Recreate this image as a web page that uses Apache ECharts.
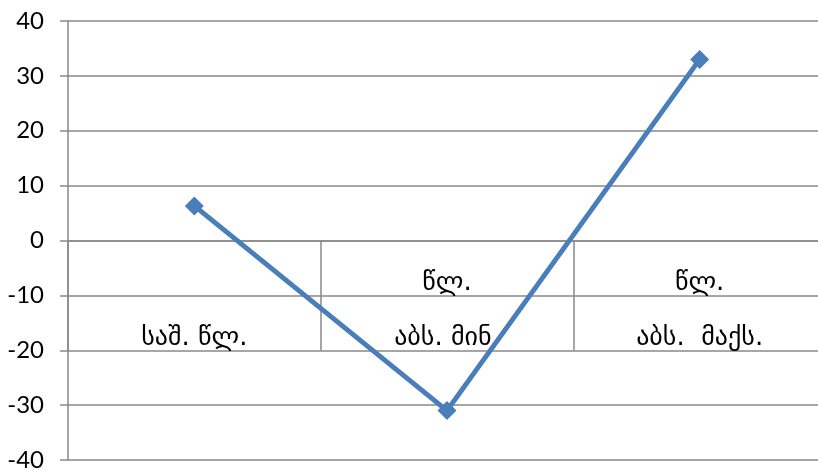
<!DOCTYPE html>
<html><head><meta charset="utf-8">
<script src="https://cdn.jsdelivr.net/npm/echarts@6/dist/echarts.min.js"></script>
<style>html,body{margin:0;padding:0;background:#fff;overflow:hidden}#c{width:818px;height:469px;display:block}</style>
</head><body><div id="c"></div>
<script>
const categories = ["\nსაშ. წლ.", "წლ.\nაბს. მინ.", "წლ.\nაბს.  მაქს."];
const values = [6.3, -31, 33];
const yTicks = {min: -40, max: 40, interval: 10};

const chart = echarts.init(document.getElementById('c'));
chart.setOption({
  animation: false,
  grid: {left: 68, right: -8, top: 21, bottom: 9, containLabel: false, outerBoundsMode: 'none'},
  xAxis: {
    type: 'category', data: categories, boundaryGap: true,
    position: 'bottom', offset: -219.5,
    axisLine: {onZero: false, lineStyle: {color: '#898989', width: 1.5}},
    axisTick: {show: true, length: 110, lineStyle: {color: '#898989', width: 1.5}},
    axisLabel: {color: '#000', fontSize: 26, fontFamily: '"DejaVu Sans"', lineHeight: 55, margin: 15, interval: 0}
  },
  yAxis: {
    type: 'value', min: yTicks.min, max: yTicks.max, interval: yTicks.interval,
    axisLine: {show: true, lineStyle: {color: '#898989', width: 1.5}},
    axisTick: {show: true, length: 8, lineStyle: {color: '#898989', width: 1.5}},
    axisLabel: {color: '#000', fontSize: 24, fontFamily: 'Lato, "Open Sans"', margin: 24},
    splitLine: {show: true, lineStyle: {color: '#898989', width: 1.5}}
  },
  series: [{
    type: 'line', data: values,
    lineStyle: {color: '#4a7ebb', width: 5},
    itemStyle: {color: '#4a7ebb'},
    symbol: 'diamond', symbolSize: 19,
    z: 5
  }]
});
</script></body></html>
